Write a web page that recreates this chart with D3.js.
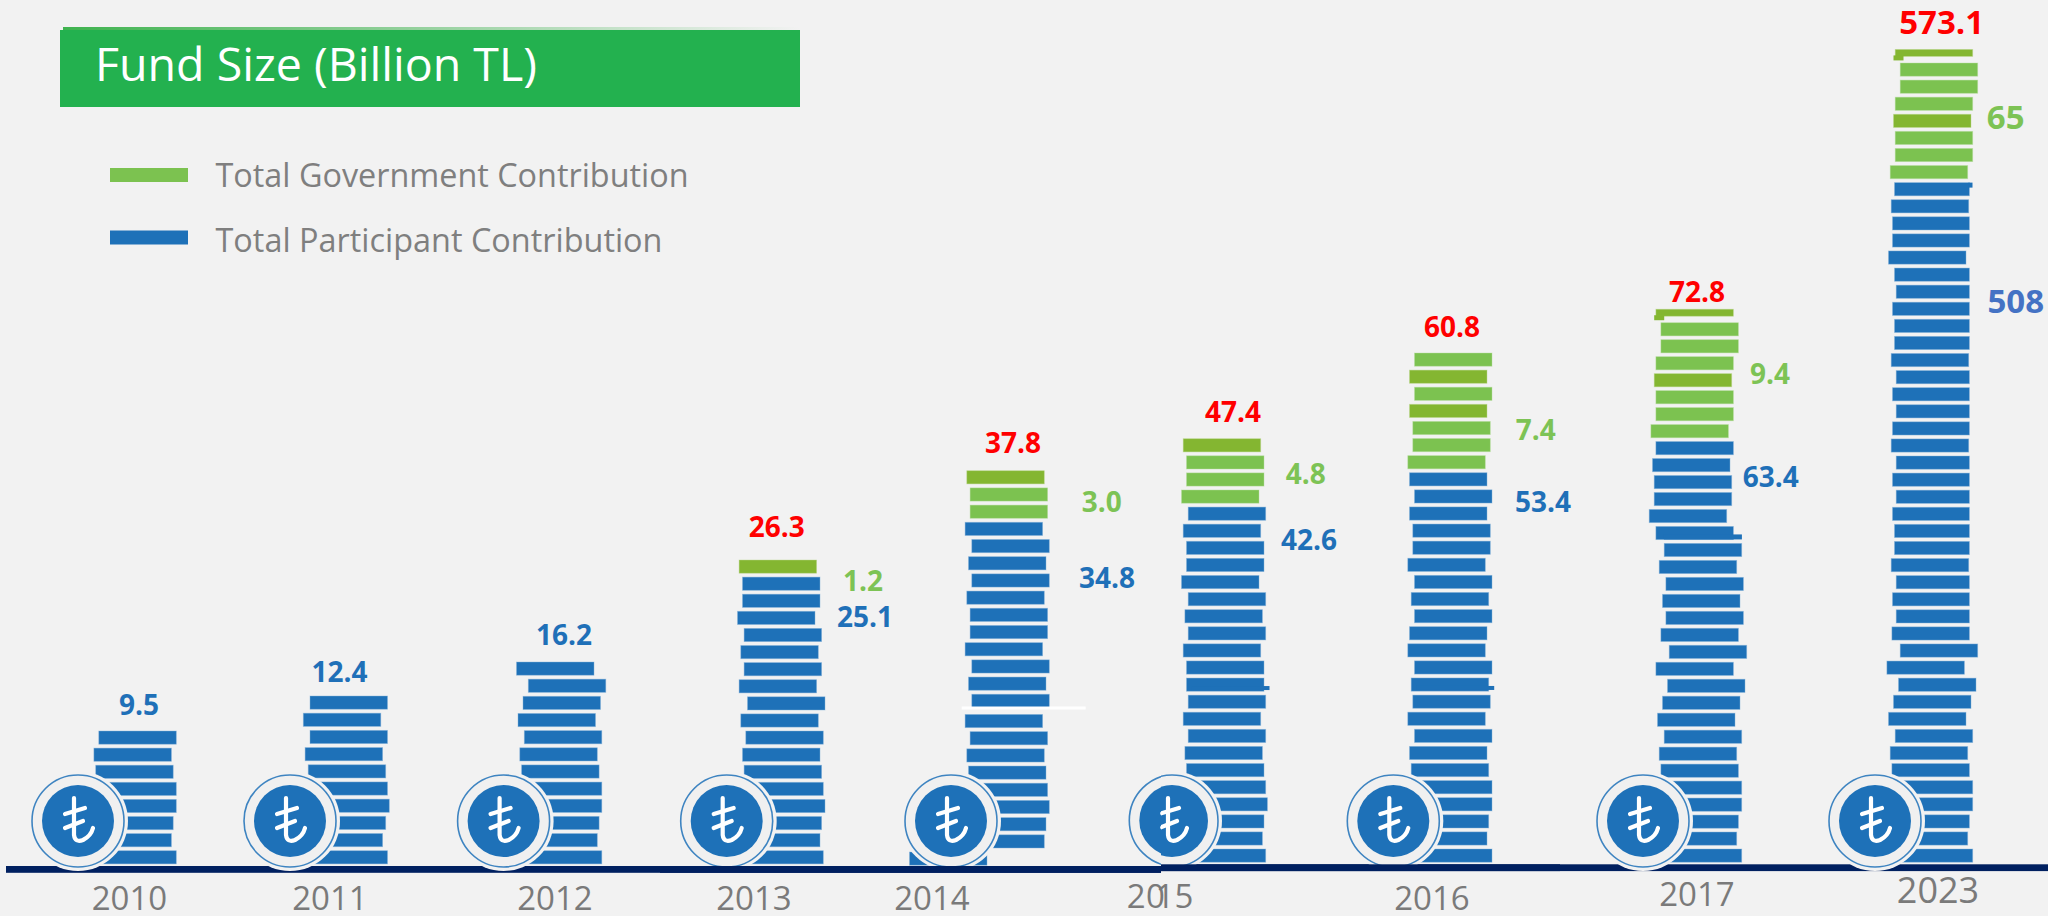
<!DOCTYPE html>
<meta charset="utf-8">
<style>
html, body { margin: 0; padding: 0; background: #f2f2f2; }
svg { display: block; }
text { font-family: "Open Sans", sans-serif; }
.total { fill: #ff0000; font-weight: 700; text-anchor: middle; }
.part { fill: #1f70b8; font-weight: 700; text-anchor: middle; }
.gov { fill: #7dc355; font-weight: 700; text-anchor: middle; }
.year { fill: #7a7a7a; text-anchor: middle; }
.coin { stroke-width: 0.8; stroke-opacity: 0.55; }
</style>
<svg width="2048" height="916"></svg>
<script src="https://d3js.org/d3.v7.min.js"></script>
<script>

// values
var years = ["2010", "2011", "2012", "2013", "2014", "2015", "2016", "2017", "2023"];
var fundTotal = [null, null, null, 26.3, 37.8, 47.4, 60.8, 72.8, 573.1];
var participant = [9.5, 12.4, 16.2, 25.1, 34.8, 42.6, 53.4, 63.4, 508];
var government = [null, null, null, 1.2, 3.0, 4.8, 7.4, 9.4, 65];

// how many coins each stack has
var participantCoins = [8, 10, 12, 17, 20, 21, 23, 25, 40];
var governmentCoins = [0, 0, 0, 1, 3, 4, 7, 8, 8];

var legendNames = ["Total Government Contribution", "Total Participant Contribution"];
var chartTitle = "Fund Size (Billion TL)";

// layout, per year
var stackRight = [176.3, 387.5, 601.8, 823.3, 1049.3, 1265.7, 1492, 1741.7, 1972.7];
var stackBottom = [850.7, 850.7, 850.7, 850.7, 852, 849, 849, 849, 849];
// top of the highest full coin; 2014 measured without the 3px jump at its seam
var stackTop = [731, 696, 662, 560, 473.7, 438.7, 353, 322.7, 63];
var medalX = [78, 290, 503.6, 726.7, 951, 1172, 1393.3, 1643, 1875];
var yearX = [129.5, 330, 555, 754, 932, 1164, 1432, 1697, 1938];
var yearY = [910, 910, 910, 910, 910, 908, 910, 906, 902.6];
var yearFont = [33, 33, 33, 33, 33, 33, 33, 33, 36];
var totalPos = [null, null, null, [776.7, 537], [1013, 453], [1233, 422], [1452, 337], [1697, 302], [1941.7, 34]];
var partPos = [[139, 715], [339.6, 682], [564, 645], [865, 626.7], [1107, 588], [1309, 550], [1543, 512], [1770.7, 486.7], [2015.7, 313]];
var govPos = [null, null, null, [863, 591], [1101.7, 512], [1305.7, 483.7], [1535.7, 440], [1770, 384], [2005.7, 128.7]];

// sideways wobble of every coin, bottom to top
var nudge2010 = [0, -4.9, -3.1, 0, 0, -3.1, -4.9, 0];
var nudge2011 = [0, -4.9, -1.8, 1.8, 0, -1.8, -4.9, 0, -6.7, 0];
var nudge2012 = [0, -4.5, -2.7, 0, 0, -2.7, -4.5, 0, -6.3, -1.3, 4, -7.8];
var nudge2013 = [0, -3.3, -1.7, 1.7, 0, -1.7, -3.3, 0, -5, 1.7, -6.7, -1.7, -5, -1.7, -8.3, -3.3, -3.3, -6.7];
var nudge2014 = [-62.3, -5, -3.3, 0, -1.7, -3.3, -5, -1.7, -6.7, 0, -3.3, 0, -6.7, -1.7, -1.7, -5, 0, -3.3, 0, -6.7, -1.7, -1.7, -5];
var nudge2015 = [0, -3.3, -1.7, 1.7, 0, -1.7, -3.3, 0, -5, 0, -1.7, -1.7, -5, 0, -3.3, 0, -6.7, -1.7, -1.7, -5, 0, -6.7, -1.7, -1.7, -5];
var nudge2016 = [0, -5, -3.3, 0, 0, -3.3, -5, 0, -6.7, -1.7, -3.3, 0, -6.7, -5, 0, -3.3, 0, -6.7, -1.7, -1.7, -5, 0, -5, -6.7, -1.7, -1.7, -5, 0, -5, 0];
var nudge2017 = [0, -5, -3.3, 0, 0, -3.3, -5, 0, -6.7, -1.7, 3.3, -8.3, 5, -3.3, 1.7, -1.7, 1.7, -5, 0, -8.3, -15, -10, -10, -11.7, -8.3, -13.3, -8.3, -8.3, -10, -8.3, -3.3, -3.3, -8.3];
var nudge2023 = [0, -5, -3.3, 0, 0, -3.3, -5, 0, -6.7, -1.7, 3.3, -8.3, 5, -3.3, 1, -2.7, 1, -4, -0.7, -0.7, -2.7, 1, -2.7, 1, -4, -2.7, 1, -2.7, 1, -4, -0.7, -0.7, -2.7, 1, -0.7, -6.7, -2.7, -2.7, -4, -0.7, -5, 0, 0, -1.7, 0, 5, 5, 0];
var nudges = [nudge2010, nudge2011, nudge2012, nudge2013, nudge2014, nudge2015, nudge2016, nudge2017, nudge2023];

// darker green coins, by year index
var darkCoins = {3: [17], 4: [22], 5: [24], 6: [26, 28], 7: [28, 32], 8: [43, 47]};
// leftovers of the pasted picture: [year index, coin, dx, dy, w, h]
var scraps = [[5, 10, 5, 8, 78, 4], [6, 10, 5, 8, 78, 4], [7, 19, 8, 8, 78, 5], [7, 32, -1.7, 6, 10, 5], [8, 47, -1.7, 6, 10, 5], [8, 39, 74, 0, 4, 5]];

var coinW = 77.5, coinH = 13.2;
var blue = "#1e71b8", green = "#7cc250", darkGreen = "#84b631", navy = "#002060", bg = "#f2f2f2";

var svg = d3.select("svg");
var defs = svg.append("defs");

var x = d3.scaleOrdinal(years, stackRight);

// title bar
var fringe = defs.append("linearGradient").attr("id", "fringe");
fringe.append("stop").attr("offset", 0).attr("stop-color", "#3fb34f");
fringe.append("stop").attr("offset", 1).attr("stop-color", bg);
svg.append("rect").attr("x", 63).attr("y", 27).attr("width", 737).attr("height", 4).attr("fill", "url(#fringe)");
svg.append("rect").attr("x", 60).attr("y", 30).attr("width", 740).attr("height", 77).attr("fill", "#23b14f");
svg.append("text").attr("x", 95).attr("y", 81)
    .attr("textLength", 442).attr("lengthAdjust", "spacingAndGlyphs")
    .style("font-size", "46px").style("fill", "#fff").text(chartTitle);

// legend
var legendColors = [green, blue];
legendNames.forEach(function(name, i) {
  svg.append("rect").attr("x", 110).attr("y", 168 + i * 62.5).attr("width", 78).attr("height", 14).attr("fill", legendColors[i]);
  svg.append("text").attr("x", 215.5).attr("y", 186.5 + i * 65)
      .attr("textLength", i == 0 ? 473 : 447).attr("lengthAdjust", "spacingAndGlyphs")
      .style("font-size", "32px").style("fill", "#7f7f7f").text(name);
});

function drawAxisPiece(g, x1, x2, y) {
  g.append("rect").attr("x", x1).attr("y", y).attr("width", x2 - x1).attr("height", 6.8).attr("fill", navy);
}

drawAxisPiece(svg, 6, 1161, 866);
drawAxisPiece(svg, 1161, 2048, 864.3);

// coin stacks
var stacks = svg.append("g").attr("class", "stacks");
years.forEach(function(year, s) {
  var total = participantCoins[s] + governmentCoins[s];
  // the thin cap coin on 2017 and 2023 is left out of the fit
  var capped = s == 7 || s == 8;
  var y = d3.scaleLinear().domain([0, total - (capped ? 2 : 1)]).range([stackBottom[s], stackTop[s]]);
  var coins = d3.range(total).map(function(i) {
    var left = x(year) + nudges[s][i] - coinW;
    var w = coinW;
    // the 2023 stack is cropped on its right side
    if (s == 8 && i >= 14 && i < 40) w = Math.min(w, x(year) - 3.3 - left);
    var dark = (darkCoins[s] || []).indexOf(i) >= 0;
    var thin = capped && i == total - 1;
    var col = i < participantCoins[s] ? blue : (dark ? darkGreen : green);
    var top = y(i);
    if (thin) top += 3.5;
    if (s == 4 && i >= 9) top -= 3; // jump at the white seam
    return {i: i, left: left, top: top, w: w, h: thin ? 7 : coinH, col: col};
  });
  stacks.append("g").selectAll("rect")
      .data(coins)
      .enter().append("rect")
      .attr("class", "coin")
      .attr("x", function(d) { return d.left; })
      .attr("y", function(d) { return d.top; })
      .attr("width", function(d) { return d.w; })
      .attr("height", function(d) { return d.h; })
      .attr("fill", function(d) { return d.col; })
      .attr("stroke", function(d) { return d3.interpolateRgb(d.col, "#fff")(0.45); });
  scraps.filter(function(p) { return p[0] == s; }).forEach(function(p) {
    var c = coins[p[1]];
    stacks.append("rect").attr("x", c.left + p[2]).attr("y", c.top + p[3])
        .attr("width", p[4]).attr("height", p[5]).attr("fill", c.col);
  });
});

// the white seam in the 2014 stack
svg.append("rect").attr("x", 961.7).attr("y", 706.5).attr("width", 124).attr("height", 3).attr("fill", "#fff");

// lira medallions
function medal(g, cx, cy) {
  var m = g.append("g").attr("transform", "translate(" + cx + "," + cy + ")");
  m.append("circle").attr("r", 50).attr("fill", bg);
  m.append("circle").attr("r", 46).attr("fill", "#f0f0f0").attr("stroke", blue).attr("stroke-opacity", 0.85).attr("stroke-width", 1.6);
  m.append("circle").attr("r", 36).attr("fill", blue);
  var sign = m.append("g").attr("fill", "none").attr("stroke", "#fff").attr("stroke-width", 4.2).attr("stroke-linecap", "round");
  sign.append("path").attr("d", "M-4,-23 L-4,14 Q-3,22 5,19 Q13,15 15,7");
  sign.append("path").attr("d", "M-13,-7 L7,-13");
  sign.append("path").attr("d", "M-13,7 L5,0");
}

var medals = svg.append("g").attr("class", "medals");
defs.append("clipPath").attr("id", "seamL").append("rect").attr("x", 1100).attr("y", 760).attr("width", 61).attr("height", 120);
defs.append("clipPath").attr("id", "seamR").append("rect").attr("x", 1161).attr("y", 760).attr("width", 80).attr("height", 120);
years.forEach(function(year, s) {
  if (year == "2015") {
    // this one is two slices that do not quite line up
    medal(medals.append("g").attr("clip-path", "url(#seamL)"), medalX[s] + 3.3, 820.4);
    medal(medals.append("g").attr("clip-path", "url(#seamR)"), medalX[s], 821);
  } else {
    medal(medals, medalX[s], 821);
  }
});

// axis runs over the medallions from 2013 to 2016
drawAxisPiece(svg, 660, 1161, 866);
drawAxisPiece(svg, 1161, 1560, 864.3);

// labels
var one = d3.format(".1f"), whole = d3.format("d");

function labels(cls, values, pos, fmt) {
  var shown = years.filter(function(d, i) { return values[i] != null; });
  svg.append("g").selectAll("text")
      .data(shown)
      .enter().append("text")
      .attr("class", cls)
      .attr("x", function(d) { return pos[years.indexOf(d)][0]; })
      .attr("y", function(d) { return pos[years.indexOf(d)][1]; })
      .style("font-size", function(d) { return d == "2023" ? "33px" : "28px"; })
      .text(function(d) { return fmt(values[years.indexOf(d)], d); });
}

labels("total", fundTotal, totalPos, function(v) { return one(v); });
labels("part", participant, partPos, function(v, d) { return d == "2023" ? whole(v) : one(v); });
labels("gov", government, govPos, function(v, d) { return d == "2023" ? whole(v) : one(v); });
svg.selectAll(".part").filter(function(d) { return d == "2023"; }).style("fill", "#4472c4");

svg.append("g").selectAll("text")
    .data(years)
    .enter().append("text")
    .attr("class", "year")
    .attr("x", function(d, i) { return yearX[i]; })
    .attr("y", function(d, i) { return yearY[i]; })
    .style("font-size", function(d, i) { return yearFont[i] + "px"; })
    .text(function(d) { return d; });

// the 2015 tick label has its 1 pasted over the 0
svg.selectAll(".year").filter(function(d) { return d == "2015"; })
    .style("text-anchor", "start")
    .attr("x", "1126.7 1146 1155.5 1174.5");

</script>
